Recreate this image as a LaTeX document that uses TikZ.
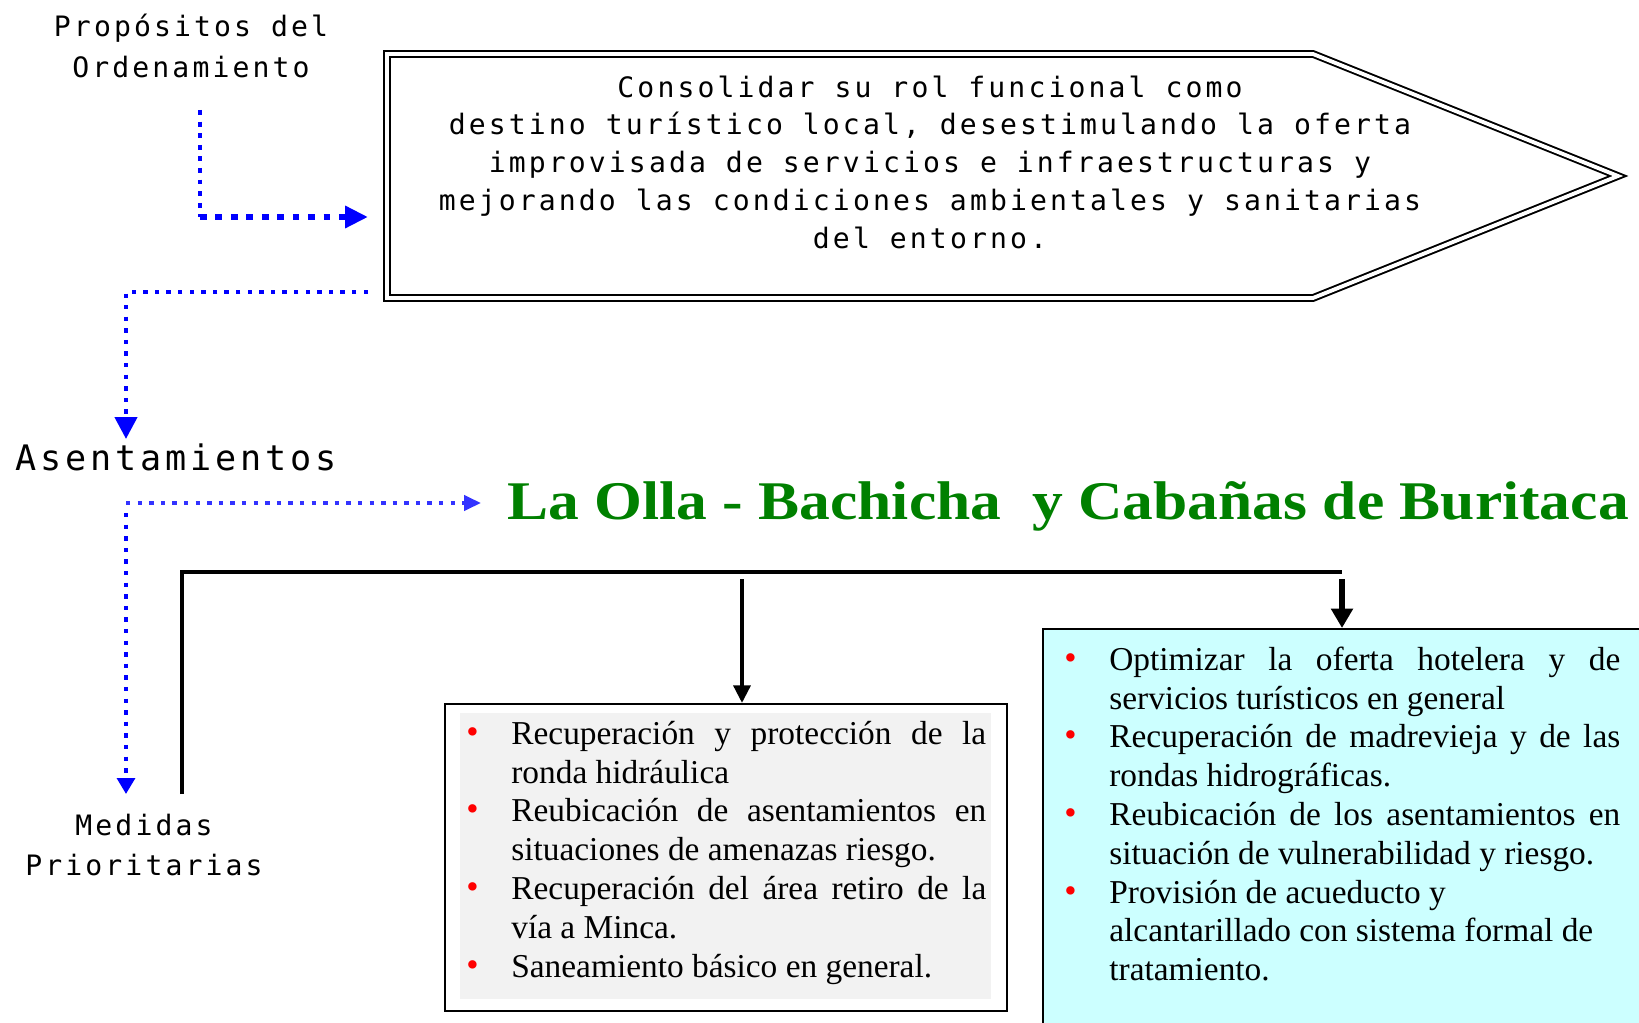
\documentclass[tikz,border=0pt]{standalone}
\usepackage{graphicx}
\usepackage{fontspec}
\setmainfont{Liberation Serif}
\newfontfamily\cadfont[LetterSpace=11]{DejaVu Sans Mono}
\usetikzlibrary{positioning, arrows.meta}

\definecolor{cadblue}{RGB}{0,0,255}
\definecolor{liteblue}{RGB}{51,51,255}
\definecolor{titlegreen}{RGB}{0,128,0}
\definecolor{boxgray}{RGB}{242,242,242}
\definecolor{boxcyan}{RGB}{204,255,255}

% red bullet with hanging indent
\newcommand{\ritem}[1]{\par\noindent\hangindent=0.9cm\hangafter=1%
  \makebox[0.9cm][l]{\raisebox{0.5pt}{\textcolor{red}{\fontsize{20}{20}\selectfont\textbullet}}}#1\par}

\begin{document}
\begin{tikzpicture}[x=0.02cm, y=-0.02cm,
    cadtext/.style={font=\cadfont\fontsize{16}{23}\selectfont, align=center, inner sep=0pt},
    dotarrow/.style={cadblue, line width=2.5pt, dash pattern=on 2.5pt off 4.1pt},
    listtext/.style={font=\fontsize{19}{22.1}\selectfont, align=justify, inner sep=0pt, anchor=north west}]
    \useasboundingbox (0,0) rectangle (1639,1023);
    \clip (0,0) rectangle (1639,1023);

    % labels on the left
    \node[cadtext] (prop) at (191,46) {Propósitos del\\Ordenamiento};
    \node[cadtext, font=\cadfont\fontsize{20}{24}\selectfont] (asent) at (176,457) {Asentamientos};
    \node[cadtext, font=\cadfont\fontsize{16}{22.7}\selectfont] (medidas) at (144,845) {Medidas\\Prioritarias};

    % purpose arrow
    \draw[double, line width=1.1pt, double distance=2.2pt] (387,54) -- (1313,54) -- (1618,176) -- (1313,298) -- (387,298) -- cycle;
    \node[cadtext, font=\cadfont\fontsize{16}{21.5}\selectfont] (goal) at (930,162) {Consolidar su rol funcional como\\destino turístico local, desestimulando la oferta\\improvisada de servicios e infraestructuras y\\mejorando las condiciones ambientales y sanitarias\\del entorno.};

    % blue dotted arrows
    \coordinate (p1) at (200,110);
    \coordinate (p1c) at (200,217);
    \coordinate (p1e) at (368,217);
    \draw[cadblue, line width=2.8pt, dash pattern=on 2.8pt off 3.8pt] (p1) -- (p1c);
    \draw[cadblue, line width=3.8pt, dash pattern=on 3.8pt off 5pt, -{Triangle[length=13pt,width=12pt]}] (p1c) -- (p1e);

    \coordinate (p2) at (368,292);
    \coordinate (p2e) at (126,439);
    \draw[dotarrow, -{Triangle[length=12.5pt,width=12.5pt]}] (p2) -| (p2e);

    \coordinate (p3) at (126,503);
    \coordinate (p3e) at (481,503);
    \coordinate (p3d) at (126,513);
    \coordinate (p3f) at (126,794);
    \draw[dotarrow, liteblue, -{Triangle[length=9.6pt,width=8.5pt]}] (p3) -- (p3e);
    \draw[dotarrow, -{Triangle[length=9pt,width=10pt]}] (p3d) -- (p3f);

    % title
    \node[font=\bfseries\fontsize{31}{36}\selectfont, text=titlegreen, inner sep=0pt] (title) at (1068,506) {\scalebox{1.13}[1]{La Olla - Bachicha \ y Cabañas de Buritaca}};

    % boxes
    \fill[boxgray] (460,713) rectangle (991,999);
    \node[draw, line width=1.2pt, anchor=north west, minimum width=11.24cm, minimum height=6.14cm, inner sep=0pt] (midbox) at (444,703) {};
    \node[listtext, text width=10.4cm] (midtext) at (466,705) {%
        \ritem{Recuperación y protección de la\linebreak ronda hidráulica}
        \ritem{Reubicación de asentamientos en\linebreak situaciones de amenazas riesgo.}
        \ritem{Recuperación del área retiro de la\linebreak vía a Minca.}
        \ritem{Saneamiento básico en general.}};

    \node[draw, fill=boxcyan, line width=1pt, anchor=north west, minimum width=13cm, minimum height=9cm, inner sep=0pt] (rbox) at (1042,628) {};
    \node[listtext, text width=11.12cm] (rtext) at (1064,631) {%
        \ritem{Optimizar la oferta hotelera y de\linebreak servicios turísticos en general}
        \ritem{Recuperación de madrevieja y de las\linebreak rondas hidrográficas.}
        \ritem{Reubicación de los asentamientos en\linebreak situación de vulnerabilidad y riesgo.}
        \ritem{Provisión de acueducto y\hfil\break alcantarillado con sistema formal de\hfil\break tratamiento.}};

    % black connectors
    \draw[line width=2.8pt] (182,794) |- (1342,572);
    \coordinate (m1) at (742,579);
    \coordinate (m2) at (1342,579);
    \draw[line width=2.3pt, -{Triangle[length=10pt,width=9.5pt]}] (m1) -- (m1 |- midbox.north);
    \draw[line width=3.4pt, -{Triangle[length=11pt,width=12pt]}] (m2) -- (m2 |- rbox.north);
\end{tikzpicture}
\end{document}
